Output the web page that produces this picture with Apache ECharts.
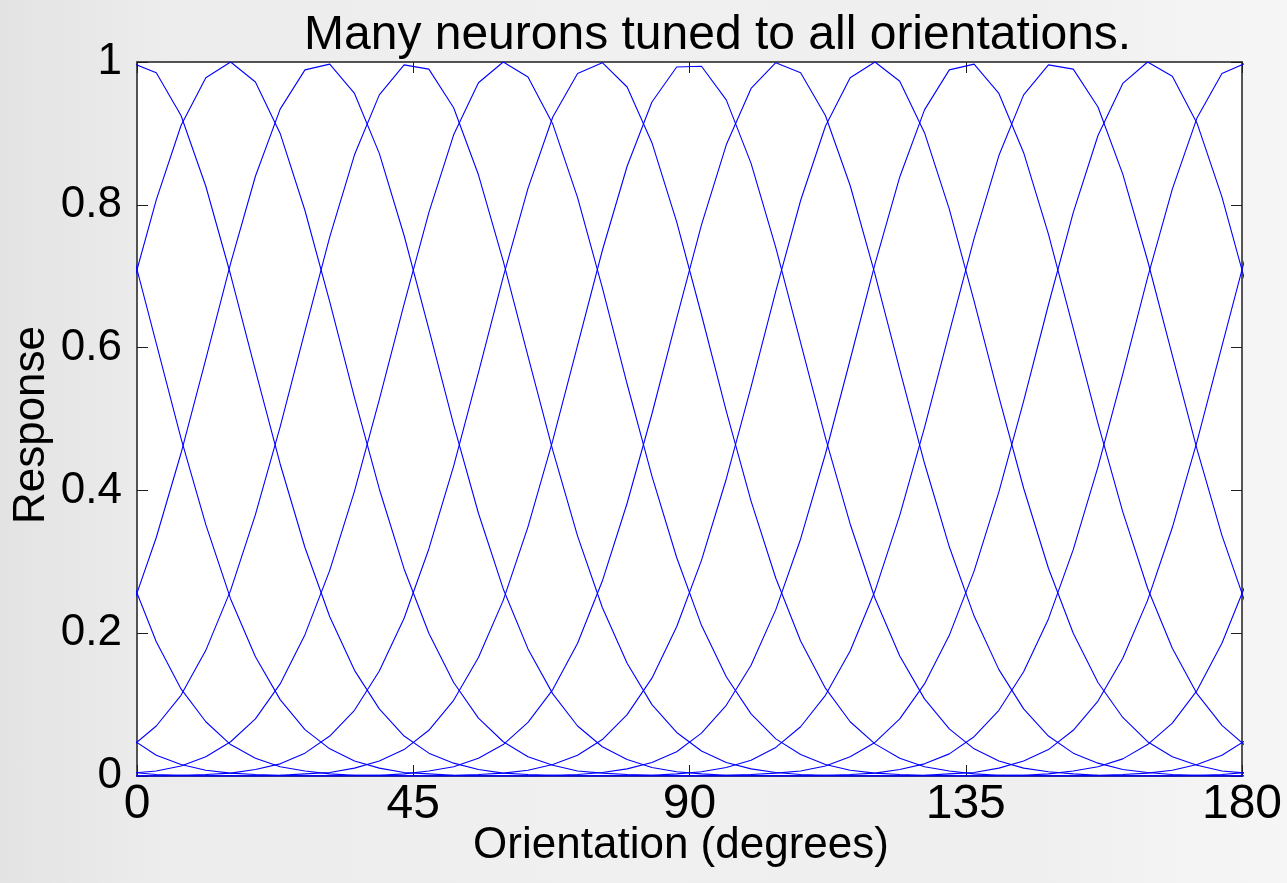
<!DOCTYPE html>
<html>
<head>
<meta charset="utf-8">
<script src="https://cdn.jsdelivr.net/npm/echarts@6/dist/echarts.min.js"></script>
<style>
  html, body { margin: 0; padding: 0; }
  body {
    width: 1287px; height: 883px; overflow: hidden;
    background: linear-gradient(90deg, #e3e3e3 0%, #ececec 12%, #f0f0f0 45%, #efefef 80%, #f6f6f6 100%);
  }
  #chart { width: 1287px; height: 883px; }
</style>
</head>
<body>
<div id="chart"></div>
<script>
// Orientations (degrees) at which each neuron's response was sampled
const sampleX = [-0.90, 3.14, 7.17, 11.21, 15.25, 19.29, 23.32, 27.36, 31.40, 35.43,
  39.47, 43.51, 47.54, 51.58, 55.62, 59.66, 63.69, 67.73, 71.77, 75.80,
  79.84, 83.88, 87.91, 91.95, 95.99, 100.03, 104.06, 108.10, 112.14, 116.17,
  120.21, 124.25, 128.28, 132.32, 136.36, 140.40, 144.43, 148.47, 152.51, 156.54,
  160.58, 164.62, 168.65, 172.69, 176.73, 180.76];

// Preferred orientation of each neuron
const preferred = [0, 15, 30, 45, 60, 75, 90, 105, 120, 135, 150, 165];

// Responses of each neuron at the sample orientations
const resp000 = [0.999, 0.985, 0.925, 0.826, 0.702, 0.568, 0.437, 0.320, 0.223, 0.148,
  0.094, 0.056, 0.032, 0.018, 0.009, 0.004, 0.002, 0.001, 0, 0,
  0, 0, 0, 0, 0, 0, 0, 0, 0.001, 0.002,
  0.004, 0.009, 0.017, 0.031, 0.055, 0.092, 0.146, 0.220, 0.317, 0.433,
  0.563, 0.698, 0.822, 0.922, 0.984, 0.999];
const resp015 = [0.681, 0.807, 0.911, 0.978, 1.000, 0.972, 0.900, 0.792, 0.664, 0.530,
  0.402, 0.290, 0.200, 0.131, 0.081, 0.048, 0.027, 0.015, 0.007, 0.004,
  0.002, 0.001, 0, 0, 0, 0, 0, 0, 0, 0,
  0, 0, 0.001, 0.003, 0.005, 0.011, 0.021, 0.037, 0.064, 0.105,
  0.165, 0.246, 0.348, 0.469, 0.602, 0.734];
const resp030 = [0.234, 0.334, 0.452, 0.584, 0.718, 0.840, 0.934, 0.989, 0.997, 0.956,
  0.872, 0.757, 0.626, 0.492, 0.368, 0.262, 0.178, 0.115, 0.070, 0.041,
  0.023, 0.012, 0.006, 0.003, 0.001, 0.001, 0, 0, 0, 0,
  0, 0, 0, 0, 0, 0.001, 0.001, 0.003, 0.007, 0.013,
  0.024, 0.044, 0.074, 0.120, 0.186, 0.272];
const resp045 = [0.041, 0.070, 0.113, 0.176, 0.260, 0.366, 0.489, 0.623, 0.755, 0.870,
  0.954, 0.996, 0.990, 0.936, 0.842, 0.721, 0.588, 0.456, 0.336, 0.236,
  0.158, 0.100, 0.061, 0.035, 0.019, 0.010, 0.005, 0.002, 0.001, 0,
  0, 0, 0, 0, 0, 0, 0, 0, 0, 0.001,
  0.002, 0.004, 0.008, 0.016, 0.029, 0.051];
const resp060 = [0.004, 0.007, 0.014, 0.027, 0.048, 0.080, 0.129, 0.198, 0.288, 0.399,
  0.527, 0.661, 0.789, 0.898, 0.971, 1.000, 0.979, 0.913, 0.810, 0.684,
  0.549, 0.420, 0.306, 0.211, 0.139, 0.087, 0.052, 0.030, 0.016, 0.008,
  0.004, 0.002, 0.001, 0, 0, 0, 0, 0, 0, 0,
  0, 0, 0, 0.001, 0.002, 0.005];
const resp075 = [0, 0, 0.001, 0.002, 0.004, 0.009, 0.017, 0.032, 0.056, 0.092,
  0.147, 0.221, 0.318, 0.434, 0.565, 0.699, 0.823, 0.923, 0.984, 0.999,
  0.965, 0.887, 0.776, 0.646, 0.511, 0.385, 0.277, 0.189, 0.123, 0.076,
  0.045, 0.025, 0.013, 0.007, 0.003, 0.001, 0.001, 0, 0, 0,
  0, 0, 0, 0, 0, 0];
const resp090 = [0, 0, 0, 0, 0, 0, 0.001, 0.003, 0.005, 0.011,
  0.021, 0.037, 0.064, 0.106, 0.166, 0.246, 0.349, 0.470, 0.603, 0.736,
  0.854, 0.944, 0.993, 0.994, 0.947, 0.858, 0.740, 0.607, 0.474, 0.353,
  0.249, 0.168, 0.108, 0.066, 0.038, 0.021, 0.011, 0.006, 0.003, 0.001,
  0, 0, 0, 0, 0, 0];
const resp105 = [0, 0, 0, 0, 0, 0, 0, 0, 0, 0.001,
  0.001, 0.003, 0.007, 0.013, 0.025, 0.044, 0.075, 0.121, 0.186, 0.273,
  0.382, 0.507, 0.641, 0.772, 0.884, 0.963, 0.999, 0.985, 0.925, 0.827,
  0.703, 0.569, 0.438, 0.321, 0.224, 0.149, 0.094, 0.056, 0.032, 0.018,
  0.009, 0.005, 0.002, 0.001, 0, 0];
const resp120 = [0.005, 0.002, 0.001, 0, 0, 0, 0, 0, 0, 0,
  0, 0, 0, 0.001, 0.002, 0.004, 0.008, 0.016, 0.029, 0.051,
  0.086, 0.137, 0.209, 0.302, 0.416, 0.545, 0.679, 0.806, 0.910, 0.978,
  1.000, 0.973, 0.901, 0.794, 0.665, 0.531, 0.403, 0.291, 0.200, 0.131,
  0.082, 0.048, 0.027, 0.015, 0.007, 0.004];
const resp135 = [0.052, 0.029, 0.016, 0.008, 0.004, 0.002, 0.001, 0, 0, 0,
  0, 0, 0, 0, 0, 0, 0, 0.001, 0.002, 0.005,
  0.010, 0.019, 0.034, 0.060, 0.099, 0.155, 0.233, 0.332, 0.451, 0.583,
  0.717, 0.839, 0.933, 0.989, 0.997, 0.956, 0.873, 0.759, 0.627, 0.494,
  0.370, 0.263, 0.179, 0.115, 0.071, 0.041];
const resp150 = [0.276, 0.188, 0.122, 0.076, 0.044, 0.025, 0.013, 0.007, 0.003, 0.001,
  0.001, 0, 0, 0, 0, 0, 0, 0, 0, 0,
  0.001, 0.001, 0.003, 0.006, 0.012, 0.022, 0.040, 0.069, 0.113, 0.175,
  0.259, 0.365, 0.488, 0.621, 0.753, 0.869, 0.954, 0.996, 0.990, 0.937,
  0.843, 0.722, 0.589, 0.457, 0.337, 0.237];
const resp165 = [0.739, 0.606, 0.473, 0.352, 0.248, 0.167, 0.107, 0.065, 0.038, 0.021,
  0.011, 0.005, 0.003, 0.001, 0, 0, 0, 0, 0, 0,
  0, 0, 0, 0, 0.001, 0.002, 0.004, 0.007, 0.014, 0.027,
  0.047, 0.080, 0.129, 0.197, 0.287, 0.398, 0.525, 0.660, 0.789, 0.897,
  0.970, 1.000, 0.980, 0.914, 0.811, 0.685];

const responses = [resp000, resp015, resp030, resp045, resp060, resp075,
  resp090, resp105, resp120, resp135, resp150, resp165];

// Axis ticks and titles
const xTicks = [0, 45, 90, 135, 180];
const yTicks = [0, 0.2, 0.4, 0.6, 0.8, 1];
const xTitle = 'Orientation (degrees)';
const yTitle = 'Response';

const FONT = '"Liberation Sans", Arial, Helvetica, sans-serif';
const AXIS_COLOR = '#1e1e1e';

const chart = echarts.init(document.getElementById('chart'), null, { renderer: 'canvas' });

const series = responses.map((vals, i) => ({
  name: 'Neuron ' + preferred[i] + '°',
  type: 'line',
  data: sampleX.map((x, k) => [x, vals[k]]),
  showSymbol: false,
  symbol: 'none',
  clip: true,
  animation: false,
  lineStyle: { color: '#0000ff', width: 1.1 },
  emphasis: { disabled: true }
}));

const boxAxis = {
  axisLine: { show: true, onZero: false, lineStyle: { color: AXIS_COLOR, width: 1.5 } },
  axisTick: { show: true, inside: true, length: 11, lineStyle: { color: AXIS_COLOR, width: 1 } },
  splitLine: { show: false }
};

chart.setOption({
  animation: false,
  backgroundColor: 'transparent',
  title: {
    text: 'Many neurons tuned to all orientations.',
    left: 299,
    top: 7,
    textStyle: { fontFamily: FONT, fontSize: 48, fontWeight: 'normal', color: '#000' }
  },
  grid: {
    left: 137, right: 45, top: 62, bottom: 107,
    outerBoundsMode: 'none',
    containLabel: false,
    show: true, backgroundColor: '#ffffff', borderWidth: 0
  },
  xAxis: [Object.assign({
    type: 'value', min: 0, max: 180, interval: 45,
    position: 'bottom',
    axisLabel: { fontFamily: FONT, fontSize: 48, color: '#000', margin: 5,
      customValues: xTicks }
  }, boxAxis), Object.assign({
    type: 'value', min: 0, max: 180, interval: 45,
    position: 'top',
    axisLabel: { show: false }
  }, boxAxis)],
  yAxis: [Object.assign({
    type: 'value', min: 0, max: 1, interval: 0.2,
    position: 'left',
    axisLabel: { fontFamily: FONT, fontSize: 44, color: '#000', margin: 15,
      customValues: yTicks }
  }, boxAxis), Object.assign({
    type: 'value', min: 0, max: 1, interval: 0.2,
    position: 'right',
    axisLabel: { show: false }
  }, boxAxis)],
  graphic: [{
    type: 'text', x: 681, y: 846, silent: true,
    style: { text: xTitle, font: '44px ' + FONT, fill: '#000',
      textAlign: 'center', textVerticalAlign: 'middle' }
  }, {
    type: 'text', x: 32, y: 425, rotation: Math.PI / 2, silent: true,
    style: { text: yTitle, font: '44px ' + FONT, fill: '#000',
      textAlign: 'center', textVerticalAlign: 'middle' }
  }],
  series: series
});
</script>
</body>
</html>
